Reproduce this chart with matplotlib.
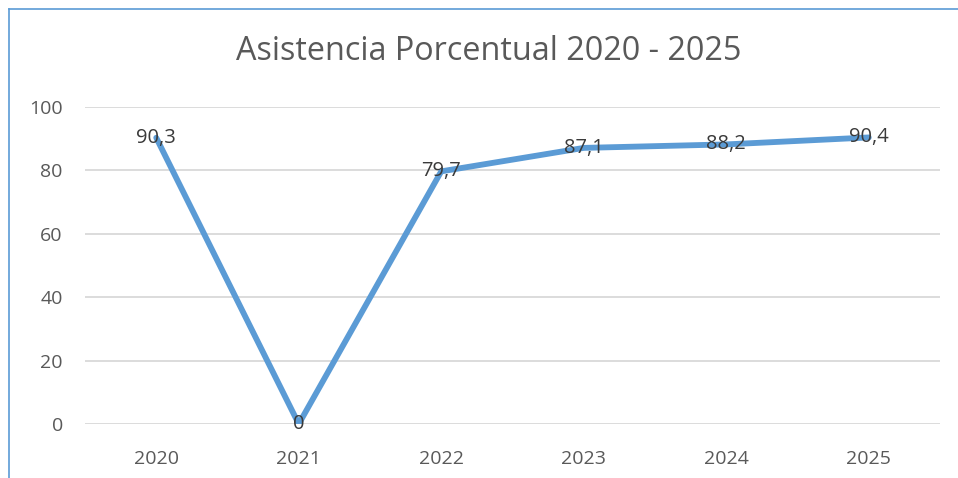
import matplotlib.pyplot as plt
from matplotlib.lines import Line2D

years = ['2020', '2021', '2022', '2023', '2024', '2025']
asistencia = [90.3, 0, 79.7, 87.1, 88.2, 90.4]
y_ticks = [0, 20, 40, 60, 80, 100]

plt.rcParams['font.family'] = ['Open Sans', 'DejaVu Sans']

fig = plt.figure(figsize=(9.58, 4.78), dpi=100)
W, H = 958, 478
ax = fig.add_axes([85 / W, 1 - 424 / H, 855 / W, 317 / H])

x = list(range(len(years)))
ax.plot(x, asistencia, color='#5B9BD5', linewidth=4.2, solid_capstyle='round', zorder=3)
for xi, v in zip(x, asistencia):
    label = f'{v:g}'.replace('.', ',')
    ax.text(xi, v, label, ha='center', va='center', fontsize=14.5, color='#3A3A3A', zorder=4)

ax.set_xlim(-0.5, len(years) - 0.5)
ax.set_ylim(0, 100)
ax.set_xticks(x)
ax.set_xticklabels(years)
ax.set_yticks(y_ticks)
ax.tick_params(axis='both', length=0, labelsize=14, labelcolor='#595959')
ax.tick_params(axis='y', pad=16)
ax.tick_params(axis='x', pad=19)
ax.grid(axis='y', color='#D9D9D9', linewidth=1.3)
ax.set_axisbelow(True)
for s in ax.spines.values():
    s.set_visible(False)

fig.text(489 / W, 1 - 52 / H, 'Asistencia Porcentual 2020 - 2025', ha='center', va='center',
         fontsize=23.3, color='#595959')

# chart frame (left and top edges)
fig.add_artist(Line2D([8.5 / W, 8.5 / W], [0, 1 - 8.5 / H], transform=fig.transFigure,
                      color='#5B9BD5', linewidth=1.2))
fig.add_artist(Line2D([8.5 / W, 1], [1 - 8.5 / H, 1 - 8.5 / H], transform=fig.transFigure,
                      color='#5B9BD5', linewidth=1.2))

plt.savefig('out.png', dpi=100)
